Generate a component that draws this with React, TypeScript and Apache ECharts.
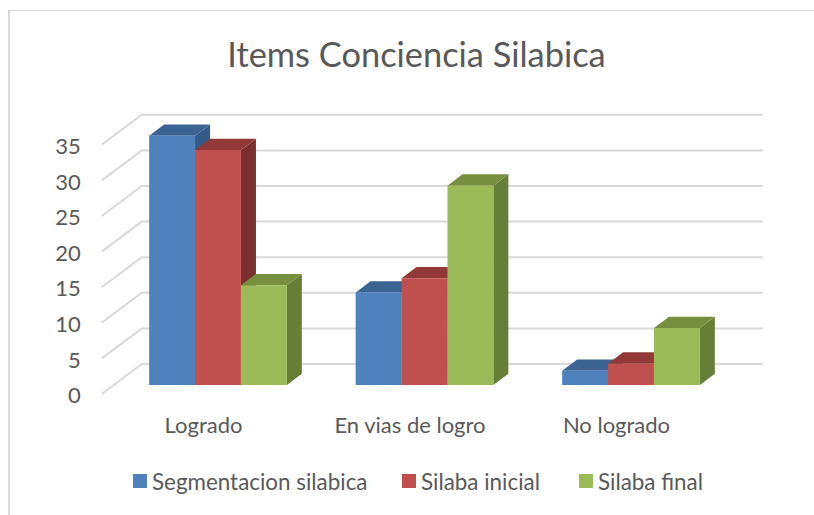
import React, { useEffect, useRef } from "react";
import * as echarts from "echarts";

const titleText = "Items Conciencia Silabica";
const categories = ["Logrado", "En vias de logro", "No logrado"];
const seriesNames = ["Segmentacion silabica", "Silaba inicial", "Silaba final"];
const segmentacion = [35, 13, 2];
const inicial = [33, 15, 3];
const final = [14, 28, 8];
const ticks = [0, 5, 10, 15, 20, 25, 30, 35];

const FONT = "Lato";
const TEXT = "#595959";
const GRID = "#d9d9d9";
const BAR_W = 45.9;
const DX = 15;
const DY = 11.3;

const barRender = (offset: number, front: string, top: string, side: string) => (params: any, api: any) => {
  const p = api.coord([api.value(0), api.value(1)]);
  const b = api.coord([api.value(0), 0]);
  const x0 = p[0] + offset * BAR_W - BAR_W / 2;
  const x1 = x0 + BAR_W;
  const yT = p[1];
  const yB = b[1];
  return {
    type: "group",
    children: [
      {
        type: "polygon",
        shape: { points: [[x1, yT], [x1 + DX, yT - DY], [x1 + DX, yB - DY], [x1, yB]] },
        style: { fill: side },
      },
      {
        type: "polygon",
        shape: { points: [[x0, yT], [x0 + DX, yT - DY], [x1 + DX, yT - DY], [x1, yT]] },
        style: { fill: top },
      },
      { type: "rect", shape: { x: x0, y: yT, width: BAR_W, height: yB - yT }, style: { fill: front } },
    ],
  };
};

const gridRender = (params: any, api: any) => {
  const y = api.coord([0, api.value(0)])[1];
  const cs = params.coordSys;
  return {
    type: "polyline",
    shape: {
      points: [
        [cs.x - 13, y + 9],
        [cs.x + 27, y - 21],
        [cs.x + cs.width + 28.5, y - 21],
      ],
    },
    style: { fill: "none", stroke: GRID, lineWidth: 2 },
  };
};

const makeBar = (name: string, values: number[], offset: number, front: string, top: string, side: string) => ({
  type: "custom",
  name,
  xAxisIndex: 0,
  yAxisIndex: 0,
  clip: false,
  z: 3,
  itemStyle: { color: front },
  encode: { x: 0, y: 1 },
  data: values.map((v, i) => [i, v]),
  renderItem: barRender(offset, front, top, side),
});

const makeLegend = (name: string, left: number) => ({
  data: [name],
  left,
  top: 465,
  icon: "rect",
  itemWidth: 14,
  itemHeight: 14,
  itemGap: 5,
  selectedMode: false,
  textStyle: { fontFamily: FONT, fontSize: 22.4, color: TEXT },
});

export default function App() {
  const ref = useRef<HTMLDivElement>(null);
  useEffect(() => {
    const chart = echarts.init(ref.current!, undefined, { renderer: "svg" });
    chart.setOption({
      animation: false,
      backgroundColor: "#ffffff",
      title: {
        text: titleText,
        left: 411.5,
        top: 31,
        textAlign: "center",
        textStyle: { fontFamily: FONT, fontSize: 34.4, fontWeight: "normal", color: TEXT },
      },
      graphic: [
        { type: "rect", shape: { x: 8, y: 10, width: 806, height: 1 }, style: { fill: GRID } },
        { type: "rect", shape: { x: 8, y: 10, width: 2, height: 505 }, style: { fill: GRID } },
      ],
      legend: [
        makeLegend(seriesNames[0], 128),
        makeLegend(seriesNames[1], 397),
        makeLegend(seriesNames[2], 574),
      ],
      grid: [
        { left: 114.75, top: 135.8, width: 619.5, height: 249.2 },
        { left: 100.25, top: 145.5, width: 619.5, height: 249.2 },
      ],
      xAxis: [
        { type: "category", gridIndex: 0, data: categories, show: false },
        {
          type: "category",
          gridIndex: 1,
          data: categories,
          axisLine: { show: false },
          axisTick: { show: false },
          axisLabel: { fontFamily: FONT, fontSize: 22, color: TEXT, margin: 18.5 },
        },
      ],
      yAxis: [
        { type: "value", gridIndex: 0, min: 0, max: 35, interval: 5, show: false },
        {
          type: "value",
          gridIndex: 1,
          min: 0,
          max: 35,
          interval: 5,
          axisLine: { show: false },
          axisTick: { show: false },
          splitLine: { show: false },
          axisLabel: { fontFamily: FONT, fontSize: 22, color: TEXT, margin: 19.5 },
        },
      ],
      series: [
        {
          type: "custom",
          name: "grid",
          xAxisIndex: 0,
          yAxisIndex: 0,
          clip: false,
          silent: true,
          z: 1,
          encode: { y: 0 },
          data: ticks.map((t) => [t]),
          renderItem: gridRender,
        },
        makeBar(seriesNames[0], segmentacion, -1, "#4f81bd", "#3b6494", "#335a88"),
        makeBar(seriesNames[1], inicial, 0, "#c0504d", "#923937", "#7b2f2e"),
        makeBar(seriesNames[2], final, 1, "#9bbb59", "#769040", "#667f36"),
      ],
    });
    return () => chart.dispose();
  }, []);
  return <div ref={ref} style={{ position: "absolute", left: 0, top: 0, width: 814, height: 515 }} />;
}
